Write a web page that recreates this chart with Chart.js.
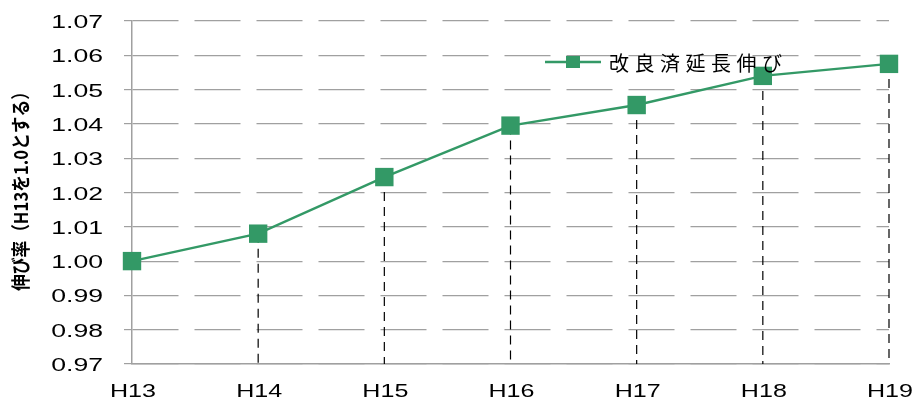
<!DOCTYPE html>
<html>
<head>
<meta charset="utf-8">
<script src="https://cdn.jsdelivr.net/npm/chart.js@4/dist/chart.umd.min.js"></script>
<style>
  html, body { margin: 0; padding: 0; background: #fff; }
</style>
</head>
<body>
<canvas id="lineCanvas" width="915" height="401"></canvas>
<script>
// data
const years = ["H13", "H14", "H15", "H16", "H17", "H18", "H19"];
const growth = [1.000, 1.008, 1.0245, 1.0395, 1.0455, 1.054, 1.0575];
const seriesName = "改良済延長伸び";
const yTitle = "伸び率（H13を1.0とする）";
const yMin = 0.97;
const yMax = 1.07;
const yStep = 0.01;

const green = "#339966";
const tickFont = "19px 'Liberation Sans'";
// the original export has horizontally widened tick text
const stretchX = 1.32;
const stretchY = 1.4;

// dashed drop lines from each point down to the x axis
const dropLines = {
    id: "dropLines",
    beforeDatasetsDraw(chart) {
        const ctx = chart.ctx;
        const area = chart.chartArea;
        const meta = chart.getDatasetMeta(0);
        ctx.save();
        ctx.strokeStyle = "#000";
        ctx.lineWidth = 1.2;
        ctx.setLineDash([9, 6]);
        meta.data.forEach(function (pt) {
            if (pt.x <= area.left + 1) return;
            ctx.beginPath();
            ctx.moveTo(pt.x, pt.y);
            ctx.lineTo(pt.x, area.bottom);
            ctx.stroke();
        });
        ctx.restore();
    }
};

// tick labels redrawn wide, at the positions the scales give
const wideTicks = {
    id: "wideTicks",
    afterDraw(chart) {
        const ctx = chart.ctx;
        const xs = chart.scales.x;
        const ys = chart.scales.y;
        ctx.save();
        ctx.fillStyle = "#000";
        ctx.font = tickFont;
        ctx.textBaseline = "alphabetic";
        ys.ticks.forEach(function (t, i) {
            const y = ys.getPixelForTick(i);
            ctx.save();
            ctx.translate(103, y + 7);
            ctx.scale(stretchY, 1);
            ctx.textAlign = "right";
            ctx.fillText(t.label, 0, 0);
            ctx.restore();
        });
        xs.ticks.forEach(function (t, i) {
            const x = xs.getPixelForTick(i);
            ctx.save();
            ctx.translate(x + 1, 397);
            ctx.scale(stretchX, 1);
            ctx.textAlign = "center";
            ctx.fillText(t.label, 0, 0);
            ctx.restore();
        });
        ctx.restore();
    }
};

// y title and the in-plot legend
const extras = {
    id: "extras",
    afterDraw(chart) {
        const ctx = chart.ctx;
        ctx.save();
        ctx.fillStyle = "#000";
        ctx.font = "bold 19px 'Noto Sans CJK JP'";
        ctx.translate(21, 187);
        ctx.rotate(-Math.PI / 2);
        ctx.scale(0.88, 1);
        ctx.textAlign = "center";
        ctx.textBaseline = "middle";
        ctx.fillText(yTitle, 0, 0);
        ctx.restore();

        ctx.save();
        const ly = 62;
        ctx.strokeStyle = green;
        ctx.lineWidth = 2.5;
        ctx.beginPath();
        ctx.moveTo(545, ly);
        ctx.lineTo(601, ly);
        ctx.stroke();
        ctx.fillStyle = green;
        ctx.fillRect(566, ly - 6, 14, 12);
        ctx.letterSpacing = "5.5px";
        ctx.fillStyle = "#000";
        ctx.font = "20px 'Noto Sans CJK JP'";
        ctx.textAlign = "left";
        ctx.textBaseline = "middle";
        ctx.fillText(seriesName, 609, ly + 1);
        ctx.restore();
    }
};

const lineChart = new Chart(document.getElementById("lineCanvas"), {
    type: "line",
    data: {
        labels: years,
        datasets: [{
            label: seriesName,
            data: growth,
            borderColor: green,
            backgroundColor: green,
            borderWidth: 2.5,
            pointStyle: "rect",
            pointRadius: 13,
            pointBorderWidth: 0,
            tension: 0
        }]
    },
    options: {
        responsive: false,
        animation: false,
        devicePixelRatio: 1,
        layout: { padding: { top: 21, right: 26, left: 0, bottom: 0 } },
        plugins: {
            legend: { display: false },
            tooltip: { enabled: false }
        },
        scales: {
            x: {
                offset: false,
                grid: { display: false, drawTicks: false },
                border: { display: true, color: "#a0a0a0", width: 1.5 },
                ticks: {
                    padding: 17,
                    color: "rgba(0,0,0,0)",
                    maxRotation: 0,
                    font: { family: "'Liberation Sans'", size: 2 }
                },
                afterFit(scale) {
                    scale.height = 37;
                    scale.paddingLeft = 0;
                    scale.paddingRight = 0;
                }
            },
            y: {
                min: yMin,
                max: yMax,
                grid: {
                    color: "#a0a0a0",
                    lineWidth: 1.2,
                    tickLength: 8,
                    tickBorderDash: [46, 16]
                },
                border: { display: true, color: "#a0a0a0", width: 1.5, dash: [46, 16] },
                ticks: {
                    stepSize: yStep,
                    padding: 19,
                    color: "rgba(0,0,0,0)",
                    font: { family: "'Liberation Sans'", size: 2 },
                    callback: function (v) { return v.toFixed(2); }
                },
                afterFit(scale) {
                    scale.width = 132;
                    scale.paddingTop = 0;
                    scale.paddingBottom = 0;
                }
            }
        }
    },
    plugins: [dropLines, wideTicks, extras]
});
</script>
</body>
</html>
